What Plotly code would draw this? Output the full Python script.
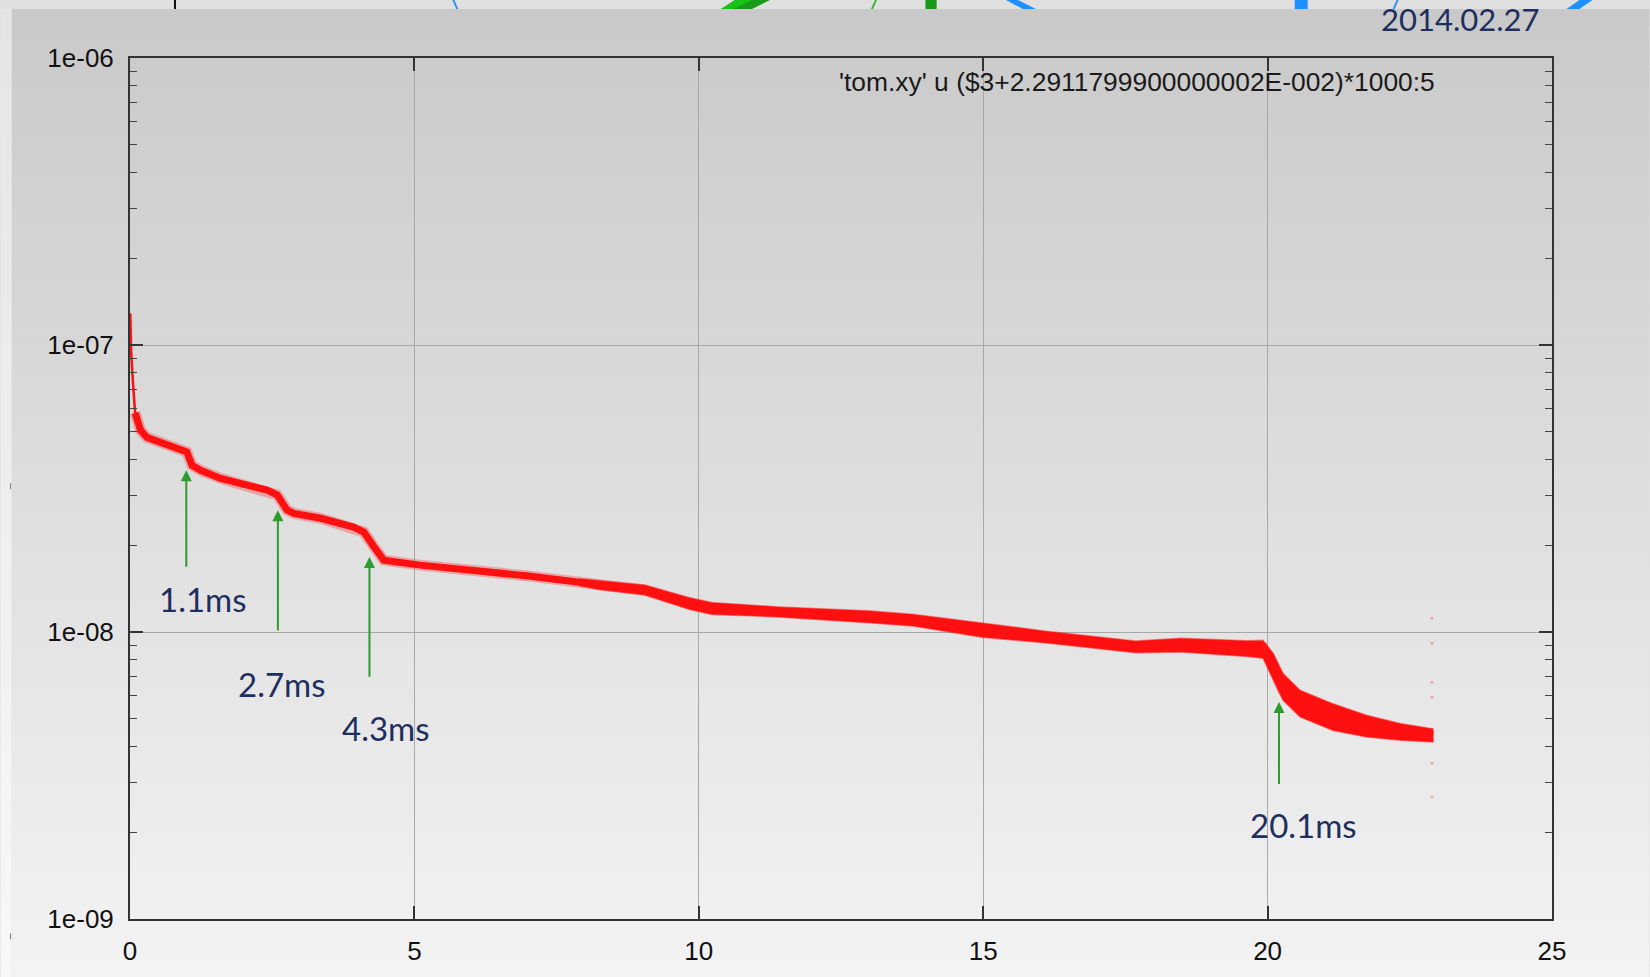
import math
import plotly.graph_objects as go

# ---------------- data ----------------
spike_t = [0.005, 0.02, 0.05, 0.09]
spike_v = [1.29e-7, 9.5e-8, 7.5e-8, 5.8e-8]

time_ms = [0.09, 0.10, 0.185, 0.30, 0.59, 1.00, 1.09, 1.24, 1.59, 2.06, 2.41, 2.59, 2.76,
           2.88, 3.35, 3.93, 4.11, 4.29, 4.46, 5.10, 6.16, 6.97, 7.90, 8.27, 9.05, 9.84,
           10.23, 11.41, 12.98, 13.76, 14.98, 16.11, 17.68, 18.47, 19.64, 19.92, 20.10,
           20.27, 20.57, 21.15, 21.74, 22.33, 22.91]
signal = [5.8e-8, 5.69e-8, 5.05e-8, 4.76e-8, 4.54e-8, 4.24e-8, 3.81e-8, 3.66e-8, 3.43e-8,
          3.25e-8, 3.12e-8, 3.00e-8, 2.66e-8, 2.59e-8, 2.49e-8, 2.32e-8, 2.23e-8, 1.98e-8,
          1.78e-8, 1.71e-8, 1.64e-8, 1.57e-8, 1.49e-8, 1.456e-8, 1.40e-8, 1.256e-8,
          1.207e-8, 1.175e-8, 1.13e-8, 1.10e-8, 1.014e-8, 9.6e-9, 8.87e-9, 9.0e-9, 8.75e-9,
          8.8e-9, 7.55e-9, 6.26e-9, 5.63e-9, 5.06e-9, 4.67e-9, 4.48e-9, 4.36e-9]

# spread of the noisy band (lower / upper edge)
band_t = [7.90, 8.27, 9.05, 9.84, 10.23, 11.41, 12.98, 13.76, 14.98, 16.11, 17.68, 18.47,
          19.64, 19.92, 20.10, 20.27, 20.57, 21.15, 21.74, 22.33, 22.91]
band_lo = [1.449e-8, 1.404e-8, 1.345e-8, 1.197e-8, 1.151e-8, 1.129e-8, 1.077e-8, 1.049e-8,
           9.58e-9, 9.15e-9, 8.46e-9, 8.51e-9, 8.21e-9, 8.10e-9, 6.78e-9, 5.78e-9, 5.06e-9,
           4.54e-9, 4.31e-9, 4.20e-9, 4.14e-9]
band_hi = [1.532e-8, 1.51e-8, 1.457e-8, 1.317e-8, 1.266e-8, 1.223e-8, 1.185e-8, 1.154e-8,
           1.073e-8, 1.007e-8, 9.30e-9, 9.52e-9, 9.33e-9, 9.35e-9, 8.43e-9, 7.18e-9, 6.27e-9,
           5.62e-9, 5.13e-9, 4.80e-9, 4.60e-9]

# faint stray points at the end of the record
stray_t = [22.89, 22.89, 22.89, 22.89, 22.89, 22.89]
stray_v = [1.117e-8, 9.14e-9, 6.68e-9, 5.93e-9, 3.49e-9, 2.66e-9]

# arrows: x, tip value, tail value
arrow_t = [0.99, 2.60, 4.21, 20.2]
arrow_tip = [3.66e-8, 2.656e-8, 1.826e-8, 5.7e-9]
arrow_tail = [1.667e-8, 1.0e-8, 6.9e-9, 2.92e-9]

# labels: text, x, value
label_text = ["1.1ms", "2.7ms", "4.3ms", "20.1ms"]
label_t = [1.28, 2.68, 4.50, 20.63]
label_v = [1.308e-8, 6.58e-9, 4.64e-9, 2.13e-9]

x_ticks = [0, 5, 10, 15, 20, 25]
y_ticks = [1e-9, 1e-8, 1e-7, 1e-6]
y_ticktext = ["1e-09", "1e-08", "1e-07", "1e-06"]

key_text = "'tom.xy' u ($3+2.2911799900000002E-002)*1000:5"
date_text = "2014.02.27"

# ---------------- layout geometry ----------------
FW, FH = 1650, 977
L, R, T, B = 129.5, 1552.5, 58.0, 918.7
PW, PH = R - L, B - T


def px(xp):
    return (xp - L) / PW


def py(yp):
    return (B - yp) / PH


RED = "#ff1010"
GREEN = "#2e9b2e"
NAVY = "#1d2f5e"

fig = go.Figure()

# soft halo of the noisy trace
fig.add_trace(go.Scatter(x=time_ms, y=signal, mode="lines",
                         line=dict(color="rgba(255,30,30,0.30)", width=11),
                         hoverinfo="skip", showlegend=False))
# noisy band
fig.add_trace(go.Scatter(
    x=band_t + band_t[::-1], y=band_hi + band_lo[::-1],
    fill="toself", fillcolor=RED, mode="lines",
    line=dict(width=1.5, color="rgba(255,30,30,0.5)"), hoverinfo="skip",
    showlegend=False))
# main curve
fig.add_trace(go.Scatter(x=time_ms, y=signal, mode="lines",
                         line=dict(color=RED, width=7), showlegend=False))
# initial spike
fig.add_trace(go.Scatter(x=spike_t, y=spike_v, mode="lines",
                         line=dict(color=RED, width=2.5), showlegend=False))
# stray points
fig.add_trace(go.Scatter(x=stray_t, y=stray_v, mode="markers",
                         marker=dict(color="rgba(255,40,40,0.35)", size=3),
                         showlegend=False))

# ---------------- background (slide gradient) ----------------
shapes = []
n = 64
top_c, bot_c = 201, 243
y0p, y1p = 9.0, FH
for i in range(n):
    a = y0p + (y1p - y0p) * i / n
    b = y0p + (y1p - y0p) * (i + 1) / n
    c = round(top_c + (bot_c - top_c) * (i + 0.5) / n)
    shapes.append(dict(type="rect", xref="paper", yref="paper", layer="below",
                       x0=px(11), x1=px(FW), y0=py(b + 0.5), y1=py(a),
                       fillcolor=f"rgb({c},{c},{c})", line=dict(width=0)))
    c2 = round(229 + (248 - 229) * (i + 0.5) / n)
    shapes.append(dict(type="rect", xref="paper", yref="paper", layer="below",
                       x0=px(0), x1=px(11), y0=py(b + 0.5), y1=py(a),
                       fillcolor=f"rgb({c2},{c2},{c2})", line=dict(width=0)))
# top strip
shapes.append(dict(type="rect", xref="paper", yref="paper", layer="below",
                   x0=px(0), x1=px(FW), y0=py(9), y1=py(0),
                   fillcolor="#e0e0e0", line=dict(width=0)))
# small marks on left strip
for ym in (486, 936):
    shapes.append(dict(type="line", xref="paper", yref="paper", layer="below",
                       x0=px(10), x1=px(10), y0=py(ym - 3), y1=py(ym + 3),
                       line=dict(color="#777777", width=1)))


def poly(pts, color):
    d = "M " + " L ".join(f"{px(a):.5f},{py(b):.5f}" for a, b in pts) + " Z"
    return dict(type="path", path=d, xref="paper", yref="paper", layer="below",
                fillcolor=color, line=dict(width=0))


# cut-off header graphics in the top strip
shapes += [
    poly([(173.5, 0), (175.5, 0), (175.5, 9), (173.5, 9)], "#111111"),
    poly([(452, 0), (454, 0), (458, 9), (456, 9)], "#1e8fff"),
    poly([(735, 0), (770, 0), (752, 9), (721, 9)], "#1a9a1a"),
    poly([(735, 0), (752, 0), (733, 9), (721, 9)], "#16c416"),
    poly([(875, 0), (877, 0), (873, 9), (871, 9)], "#22bb22"),
    poly([(925.5, 0), (936.7, 0), (936.7, 9), (925.5, 9)], "#1a991a"),
    poly([(1006, 0), (1018, 0), (1036, 9), (1023, 9)], "#1e8fff"),
    poly([(1295, 0), (1308, 0), (1308, 9), (1295, 9)], "#1e8fff"),
    poly([(1397, 0), (1399, 0), (1395, 9), (1393, 9)], "#1e8fff"),
    poly([(1580, 0), (1593, 0), (1580, 9), (1567, 9)], "#1e8fff"),
]

# ---------------- annotations ----------------
annotations = []
for xa, tip, tail in zip(arrow_t, arrow_tip, arrow_tail):
    annotations.append(dict(
        x=xa, y=math.log10(tip), ax=xa, ay=math.log10(tail),
        xref="x", yref="y", axref="x", ayref="y", text="",
        showarrow=True, arrowhead=2, arrowsize=1.1, arrowwidth=2,
        arrowcolor=GREEN, standoff=0, startstandoff=0))
for txt, xt, vt in zip(label_text, label_t, label_v):
    annotations.append(dict(
        x=xt, y=math.log10(vt), xref="x", yref="y", text=txt, showarrow=False,
        font=dict(family="Lato", size=33, color=NAVY),
        xanchor="center", yanchor="middle"))
annotations.append(dict(
    x=px(1437), y=py(82), xref="paper", yref="paper", text=key_text,
    showarrow=False, xanchor="right", yanchor="middle",
    font=dict(family="Liberation Sans", size=26.4, color="#1a1a1a")))
annotations.append(dict(
    x=px(1460), y=py(19), xref="paper", yref="paper", text=date_text,
    showarrow=False, xanchor="center", yanchor="middle",
    font=dict(family="Lato", size=31, color=NAVY)))

axis_font = dict(family="Liberation Sans", size=26, color="#111111")
fig.update_layout(
    width=FW, height=FH, autosize=False,
    margin=dict(l=L, r=FW - R, t=T, b=FH - B, pad=0),
    paper_bgcolor="#e0e0e0", plot_bgcolor="rgba(0,0,0,0)",
    shapes=shapes, annotations=annotations, showlegend=False,
    xaxis=dict(range=[0, 25], tickvals=x_ticks, ticks="inside", ticklen=13,
               tickwidth=1.5, tickcolor="#333333", showline=True, linecolor="#333333",
               linewidth=2, mirror="allticks", showgrid=True, gridcolor="#a8a8a8",
               gridwidth=1, zeroline=False, tickfont=axis_font, ticklabelstandoff=8,
               automargin=False),
    yaxis=dict(type="log", range=[-9, -6], tickvals=y_ticks, ticktext=y_ticktext,
               ticks="inside", ticklen=13, tickwidth=1.5, tickcolor="#333333",
               showline=True, linecolor="#333333", linewidth=2, mirror="allticks",
               showgrid=True, gridcolor="#a8a8a8", gridwidth=1, zeroline=False,
               tickfont=axis_font, ticklabelstandoff=9, automargin=False,
               minor=dict(ticks="inside", ticklen=7, tickwidth=1.2,
                          tickcolor="#444444", dtick="D1", showgrid=False)),
)

fig.write_html(
    "out.html",
    config={"displayModeBar": False, "responsive": False},
    post_script="document.body.style.margin='0';document.body.style.padding='0';"
                "document.body.style.overflow='hidden';"
                "document.body.style.background='#e0e0e0';")
